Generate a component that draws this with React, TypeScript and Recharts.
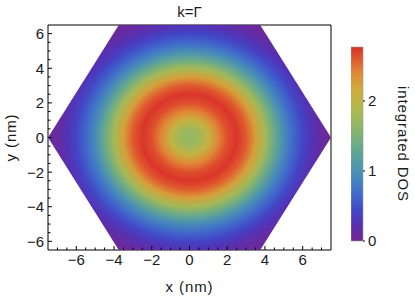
import React from 'react';
import { ScatterChart, Scatter, XAxis, YAxis, BarChart, Bar } from 'recharts';

// hexagonal Brillouin-zone-like region (nm)
const hexVertices = [
  { x: 7.5, y: 0 },
  { x: 3.75, y: 6.5 },
  { x: -3.75, y: 6.5 },
  { x: -7.5, y: 0 },
  { x: -3.75, y: -6.5 },
  { x: 3.75, y: -6.5 },
];

// radial profile of the integrated DOS
const radius = [0, 0.5, 1, 1.5, 2, 2.5, 3, 3.5, 4, 4.5, 5, 5.5, 6, 6.5, 7, 7.5];
const dos = [1.65, 1.75, 2.05, 2.4, 2.65, 2.75, 2.6, 2.25, 1.8, 1.35, 0.95, 0.65, 0.42, 0.25, 0.12, 0.05];

// colour map (Rainbow) as seen on the colour bar
const cmapValues = [0, 0.25, 0.45, 0.7, 1.0, 1.3, 1.6, 1.9, 2.15, 2.4, 2.6, 2.77];
const cmapColors = ['#76248f', '#5532b4', '#4048c8', '#4070cc', '#4a92b4', '#62a890', '#8ab66a', '#b2ba4c', '#cfae3c', '#e08836', '#e05a2e', '#d8302a'];
const colorbarMax = 2.77;
const colorbarTicks = [0, 1, 2];

const xTicks = [-7, -6.5, -6, -5.5, -5, -4.5, -4, -3.5, -3, -2.5, -2, -1.5, -1, -0.5, 0, 0.5, 1, 1.5, 2, 2.5, 3, 3.5, 4, 4.5, 5, 5.5, 6, 6.5, 7];
const xLabels = [-6, -4, -2, 0, 2, 4, 6];
const yTicks = [-6, -5.5, -5, -4.5, -4, -3.5, -3, -2.5, -2, -1.5, -1, -0.5, 0, 0.5, 1, 1.5, 2, 2.5, 3, 3.5, 4, 4.5, 5, 5.5, 6];
const yLabels = [-6, -4, -2, 0, 2, 4, 6];

const FONT = '"Liberation Sans", Arial, sans-serif';
const TXT = '#1a1a1a';
const FS = 15;

const hex = (c: string) => [1, 3, 5].map((i) => parseInt(c.slice(i, i + 2), 16));
function colorAt(v: number) {
  if (v <= cmapValues[0]) return cmapColors[0];
  for (let i = 1; i < cmapValues.length; i++) {
    if (v <= cmapValues[i]) {
      const t = (v - cmapValues[i - 1]) / (cmapValues[i] - cmapValues[i - 1]);
      const a = hex(cmapColors[i - 1]);
      const b = hex(cmapColors[i]);
      return `rgb(${a.map((c, k) => Math.round(c + (b[k] - c) * t)).join(',')})`;
    }
  }
  return cmapColors[cmapColors.length - 1];
}

const fmt = (v: number) => (v < 0 ? `\u2212${-v}` : `${v}`);
const isMajor = (v: number, labels: number[]) => labels.includes(v);

const BottomTick = (p: any) => {
  const v = p.payload.value;
  const major = isMajor(v, xLabels);
  return (
    <g>
      <line x1={p.x} x2={p.x} y1={p.y} y2={p.y - (major ? 4 : 2.5)} stroke="#000" />
      {major && (
        <text x={p.x} y={p.y + 15} textAnchor="middle" fontSize={FS} fill={TXT} fontFamily={FONT}>
          {fmt(v)}
        </text>
      )}
    </g>
  );
};
const TopTick = (p: any) => {
  const major = isMajor(p.payload.value, xLabels);
  return <line x1={p.x} x2={p.x} y1={p.y} y2={p.y + (major ? 4 : 2.5)} stroke="#000" />;
};
const LeftTick = (p: any) => {
  const v = p.payload.value;
  const major = isMajor(v, yLabels);
  return (
    <g>
      <line x1={p.x} x2={p.x + (major ? 4 : 2.5)} y1={p.y} y2={p.y} stroke="#000" />
      {major && (
        <text x={p.x - 4} y={p.y + 5.5} textAnchor="end" fontSize={FS} fill={TXT} fontFamily={FONT}>
          {fmt(v)}
        </text>
      )}
    </g>
  );
};
const RightTick = (p: any) => {
  const major = isMajor(p.payload.value, yLabels);
  return <line x1={p.x} x2={p.x - (major ? 4 : 2.5)} y1={p.y} y2={p.y} stroke="#000" />;
};

// draws the filled hexagon; scales come from the pixel positions of its vertices
const HexField = (props: any) => {
  const pts = props.points as { x: number; y: number }[];
  if (!pts || pts.length < 6) return <g />;
  const kx = (pts[0].x - pts[3].x) / (hexVertices[0].x - hexVertices[3].x);
  const ky = (pts[0].y - pts[1].y) / (hexVertices[1].y - hexVertices[0].y);
  const cx = (pts[0].x + pts[3].x) / 2;
  const cy = pts[0].y;
  const rMax = radius[radius.length - 1];
  return (
    <g>
      <defs>
        <radialGradient
          id="dosField"
          gradientUnits="userSpaceOnUse"
          cx={cx}
          cy={cy}
          r={rMax * kx}
          gradientTransform={`translate(${cx} ${cy}) scale(1 ${ky / kx}) translate(${-cx} ${-cy})`}
        >
          {radius.map((r, i) => (
            <stop key={i} offset={r / rMax} stopColor={colorAt(dos[i])} />
          ))}
        </radialGradient>
      </defs>
      <polygon points={pts.map((q) => `${q.x},${q.y}`).join(' ')} fill="url(#dosField)" />
    </g>
  );
};

const noDot = () => <g />;

const labelStyle = { fontSize: FS, fill: TXT, fontFamily: FONT };

export default function App() {
  return (
    <div style={{ position: 'absolute', left: 0, top: 0, width: 415, height: 299, background: '#fff', fontFamily: FONT }}>
      <div style={{ position: 'absolute', left: 0, top: 0 }}>
        <ScatterChart width={415} height={299} margin={{ top: 24, right: 83, bottom: 5, left: 8 }}>
          <XAxis
            xAxisId={0}
            type="number"
            dataKey="x"
            domain={[-7.5, 7.5]}
            ticks={xTicks}
            interval={0}
            tickSize={0}
            tickMargin={0}
            tickLine={false}
            tick={BottomTick}
            height={44}
            axisLine={{ stroke: '#000' }}
            label={{ value: 'x (nm)', position: 'insideBottom', offset: 2, ...labelStyle, style: { letterSpacing: '0.9px' } }}
          />
          <XAxis
            xAxisId="top"
            orientation="top"
            type="number"
            dataKey="x"
            domain={[-7.5, 7.5]}
            ticks={xTicks}
            interval={0}
            tickSize={0}
            tickMargin={0}
            tickLine={false}
            tick={TopTick}
            height={1}
            axisLine={{ stroke: '#000' }}
            label={{ value: 'k=\u0393', position: 'top', offset: 7, ...labelStyle }}
          />
          <YAxis
            yAxisId={0}
            type="number"
            dataKey="y"
            domain={[-6.5, 6.5]}
            ticks={yTicks}
            interval={0}
            tickSize={0}
            tickMargin={0}
            tickLine={false}
            tick={LeftTick}
            width={40}
            axisLine={{ stroke: '#000' }}
            label={{ value: 'y (nm)', angle: -90, position: 'insideLeft', offset: 3, ...labelStyle, style: { textAnchor: 'middle', letterSpacing: '0.9px' } }}
          />
          <YAxis
            yAxisId="right"
            orientation="right"
            type="number"
            dataKey="y"
            domain={[-6.5, 6.5]}
            ticks={yTicks}
            interval={0}
            tickSize={0}
            tickMargin={0}
            tickLine={false}
            tick={RightTick}
            width={1}
            axisLine={{ stroke: '#000' }}
          />
          <Scatter
            xAxisId={0}
            yAxisId={0}
            data={hexVertices}
            shape={noDot}
            line={HexField}
            lineType="joint"
            isAnimationActive={false}
          />
        </ScatterChart>
      </div>
      <div style={{ position: 'absolute', left: 351, top: 0 }}>
        <BarChart
          width={64}
          height={299}
          data={[{ name: 'DOS', top: colorbarMax }]}
          margin={{ top: 47, right: 0, bottom: 58, left: 0 }}
          barCategoryGap={0}
        >
          <defs>
            <linearGradient id="cbar" x1="0" y1="1" x2="0" y2="0">
              {cmapValues.map((v, i) => (
                <stop key={i} offset={v / colorbarMax} stopColor={cmapColors[i]} />
              ))}
            </linearGradient>
          </defs>
          <XAxis dataKey="name" hide />
          <YAxis
            orientation="right"
            type="number"
            domain={[0, colorbarMax]}
            ticks={colorbarTicks}
            interval={0}
            width={52}
            tickSize={2}
            tickMargin={3}
            axisLine={false}
            tickLine={{ stroke: '#000' }}
            tick={{ ...labelStyle, textAnchor: 'start' }}
            label={{ value: 'integrated DOS', angle: 90, position: 'insideRight', offset: 12, ...labelStyle, style: { textAnchor: 'middle', letterSpacing: '0.9px' } }}
          />
          <Bar dataKey="top" fill="url(#cbar)" stroke="#9a9a9a" strokeWidth={0.6} isAnimationActive={false} />
        </BarChart>
      </div>
    </div>
  );
}
